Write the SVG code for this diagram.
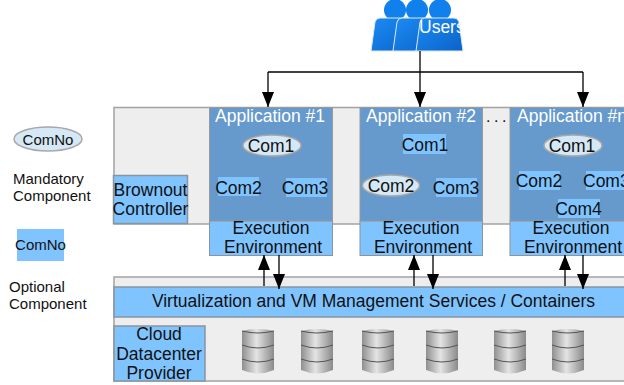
<svg xmlns="http://www.w3.org/2000/svg" width="624" height="385" viewBox="0 0 624 385">
<defs>
<linearGradient id="db" x1="0" x2="1" y1="0" y2="0"><stop offset="0" stop-color="#8f8f8f"/><stop offset=".45" stop-color="#e4e4e4"/><stop offset="1" stop-color="#8a8a8a"/></linearGradient>
<linearGradient id="user" x1="0" x2="1" y1="0" y2="1"><stop offset="0" stop-color="#1c8cf4"/><stop offset="1" stop-color="#0a62c8"/></linearGradient>
<marker id="ah" viewBox="0 0 15 12" refX="15" refY="6" markerWidth="15" markerHeight="12" markerUnits="userSpaceOnUse" orient="auto"><path d="M0 0L15 6L0 12Z" fill="#000"/></marker>
<g id="cyl">
<path d="M-16 -21Q0 -25 16 -21V18Q0 25 -16 18Z" fill="url(#db)"/>
<path d="M-16 -21Q0 -17 16 -21M-16 -7Q0 -1 16 -7M-16 7Q0 13 16 7" fill="none" stroke="#555" stroke-width="1"/>
</g>
<g id="person"><circle cx="0" cy="10" r="11" fill="#0f80ec"/><path d="M-24 51L-20 22Q-19 18 -15 18H14Q18 18 19 22L23 51Z" fill="url(#user)" stroke="#dfe9f5" stroke-width="1"/></g>
</defs>
<style>
text{font-family:"Liberation Sans",Arial,sans-serif;fill:#111}
.panel{fill:#eeeeee;stroke:#a3a3a3;stroke-width:1.500}
.app{fill:#6699cc;stroke:#9a9a9a;stroke-width:1}
.lb{fill:#80c4ff;stroke:#8a949c;stroke-width:1.500}
.ee{fill:#80c4ff;stroke:#8a949c;stroke-width:1}
.t{font-size:17.500px;text-anchor:middle}
.ti{font-size:17.500px;text-anchor:middle;fill:#fff}
.c{font-size:17.500px;text-anchor:middle}
.l{font-size:15px;text-anchor:middle}
.s{font-size:15px}
.el{fill:#d5e8f5;stroke:#a8a8a8;stroke-width:1.500}
.o{fill:#80c4ff}
.ln{fill:none;stroke:#000;stroke-width:1.300}
</style>

<g id="platform-panel"><rect class="panel" x="114" y="107.500" width="512" height="116.500"/></g>
<g id="infrastructure-panel"><rect class="panel" x="114" y="277" width="512" height="104"/></g>

<g id="users">
<use href="#person" x="395"/><use href="#person" x="417"/><use href="#person" x="440"/>
<text x="419" y="33" font-size="17.500" style="fill:#fff">Users</text>
</g>

<g id="legend-mandatory">
<ellipse class="el" cx="48" cy="139" rx="34" ry="12"/>
<text class="l" x="48" y="144.500">ComNo</text>
<text class="s" x="13" y="184">Mandatory</text>
<text class="s" x="13" y="200.500">Component</text>
</g>
<g id="legend-optional">
<rect class="o" x="17" y="229" width="47" height="32"/>
<text class="l" x="40.500" y="250">ComNo</text>
<text class="s" x="9" y="292">Optional</text>
<text class="s" x="9" y="309">Component</text>
</g>

<g id="brownout-controller">
<rect class="lb" x="113.500" y="175.500" width="74" height="48"/>
<text class="t" x="150.500" y="196">Brownout</text>
<text class="t" x="150.500" y="215">Controller</text>
</g>

<g id="application-1">
<rect class="app" x="209.500" y="107.500" width="123" height="113.500"/>
<text class="ti" x="270" y="122">Application #1</text>
<ellipse class="el" cx="272" cy="145.500" rx="29" ry="10.500"/>
<text class="c" x="271" y="152">Com1</text>
<rect class="o" x="218" y="177" width="41" height="19"/><text class="c" x="238.500" y="194">Com2</text>
<rect class="o" x="286" y="178" width="41" height="19"/><text class="c" x="305" y="194">Com3</text>
</g>
<g id="execution-1">
<rect class="ee" x="209.500" y="221" width="123" height="34.500"/>
<text class="t" x="271" y="233.500">Execution</text>
<text class="t" x="273" y="252.500">Environment</text>
</g>

<g id="application-2">
<rect class="app" x="360" y="107.500" width="122.500" height="113.500"/>
<text class="ti" x="421" y="122">Application #2</text>
<rect class="o" x="403" y="134" width="43" height="20"/><text class="c" x="425" y="151">Com1</text>
<ellipse class="el" cx="391" cy="185.500" rx="28.500" ry="10.500"/><text class="c" x="391" y="192">Com2</text>
<rect class="o" x="436" y="178" width="41" height="19"/><text class="c" x="456" y="194">Com3</text>
</g>
<g id="execution-2">
<rect class="ee" x="360" y="221" width="122.500" height="34.500"/>
<text class="t" x="421" y="233.500">Execution</text>
<text class="t" x="423" y="252.500">Environment</text>
</g>

<text x="498" y="122" font-size="16" letter-spacing="3.500" text-anchor="middle">...</text>

<g id="application-n">
<rect class="app" x="510" y="107.500" width="116" height="113.500"/>
<text class="ti" x="517" y="122" style="text-anchor:start">Application #n</text>
<ellipse class="el" cx="573" cy="145.500" rx="29" ry="10.500"/>
<text class="c" x="572" y="152">Com1</text>
<rect class="o" x="519" y="171" width="41" height="19"/><text class="c" x="539" y="187">Com2</text>
<rect class="o" x="586" y="171" width="38" height="19"/><text class="c" x="583" y="187" style="text-anchor:start">Com3</text>
<rect class="o" x="558" y="199" width="42" height="19"/><text class="c" x="578.500" y="215">Com4</text>
</g>
<g id="execution-n">
<rect class="ee" x="510" y="221" width="116" height="34.500"/>
<text class="t" x="571" y="233.500">Execution</text>
<text class="t" x="573" y="252.500">Environment</text>
</g>

<g id="virtualization-bar">
<rect class="lb" x="114" y="287" width="512" height="30"/>
<text class="t" x="373.500" y="307">Virtualization and VM Management Services / Containers</text>
</g>
<g id="cloud-provider">
<rect class="lb" x="114" y="326" width="91" height="55"/>
<text class="t" x="159" y="340">Cloud</text>
<text class="t" x="159" y="359.500">Datacenter</text>
<text class="t" x="159" y="379">Provider</text>
</g>
<g id="storage">
<use href="#cyl" x="258" y="352"/><use href="#cyl" x="317" y="352"/><use href="#cyl" x="378" y="352"/>
<use href="#cyl" x="442" y="352"/><use href="#cyl" x="510" y="352"/><use href="#cyl" x="568" y="352"/>
</g>

<g id="connectors">
<path class="ln" d="M420 51V107" marker-end="url(#ah)"/>
<path class="ln" d="M268 72H583"/>
<path class="ln" d="M268 72V107" marker-end="url(#ah)"/>
<path class="ln" d="M583 72V107" marker-end="url(#ah)"/>
<path class="ln" d="M264 286V255" marker-end="url(#ah)"/>
<path class="ln" d="M279 255V289" marker-end="url(#ah)"/>
<path class="ln" d="M414 286V255" marker-end="url(#ah)"/>
<path class="ln" d="M433 255V289" marker-end="url(#ah)"/>
<path class="ln" d="M565 286V255" marker-end="url(#ah)"/>
<path class="ln" d="M583 255V289" marker-end="url(#ah)"/>
</g>
</svg>
